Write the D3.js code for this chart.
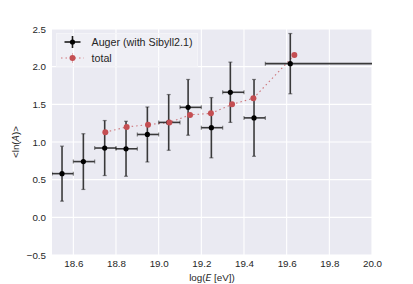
<!DOCTYPE html>
<html><head><meta charset="utf-8">
<script src="https://cdn.jsdelivr.net/npm/d3@7"></script>
<style>body{margin:0;background:#fff}svg{display:block}text{font-family:"Liberation Sans",Arial,sans-serif;fill:#262626}</style>
</head><body><svg id="c" width="413" height="284"></svg>
<script>
// Auger data (with Sibyll2.1)
const augerX    = [18.547, 18.647, 18.747, 18.847, 18.947, 19.047, 19.138, 19.247, 19.336, 19.447, 19.617];
const augerLnA  = [0.58, 0.74, 0.92, 0.91, 1.10, 1.26, 1.46, 1.19, 1.66, 1.32, 2.04];
const augerErr  = [0.365, 0.37, 0.365, 0.365, 0.365, 0.37, 0.37, 0.40, 0.40, 0.51, 0.40];
const binLow    = [18.5, 18.6, 18.7, 18.8, 18.9, 19.0, 19.1, 19.2, 19.3, 19.4, 19.5];
const binHigh   = [18.6, 18.7, 18.8, 18.9, 19.0, 19.1, 19.2, 19.3, 19.4, 19.5, 20.5];
// total model
const totalX    = [18.75, 18.85, 18.95, 19.05, 19.147, 19.245, 19.344, 19.444, 19.636];
const totalLnA  = [1.13, 1.20, 1.23, 1.26, 1.36, 1.38, 1.50, 1.58, 2.155];
const xTicks    = [18.6, 18.8, 19.0, 19.2, 19.4, 19.6, 19.8, 20.0];
const yTicks    = [-0.5, 0.0, 0.5, 1.0, 1.5, 2.0, 2.5];

const svg = d3.select("#c");
const L=52, R=372, T=29, B=255;
const x = d3.scaleLinear().domain([18.5, 20.0]).range([L, R]);
const y = d3.scaleLinear().domain([-0.5, 2.5]).range([B, T]);

svg.append("rect").attr("x",L).attr("y",T).attr("width",R-L).attr("height",B-T).attr("fill","#EAEAF2");
svg.append("defs").append("clipPath").attr("id","clip").append("rect").attr("x",L).attr("y",T).attr("width",R-L).attr("height",B-T);

// grid
const g = svg.append("g");
g.selectAll(".gx").data(xTicks).join("line").attr("x1",d=>x(d)).attr("x2",d=>x(d)).attr("y1",T).attr("y2",B).attr("stroke","#fff").attr("stroke-width",1.1);
g.selectAll(".gy").data(yTicks).join("line").attr("y1",d=>y(d)).attr("y2",d=>y(d)).attr("x1",L).attr("x2",R).attr("stroke","#fff").attr("stroke-width",1.1);

// axes
const xa = svg.append("g").attr("transform",`translate(0,${B})`).call(d3.axisBottom(x).tickValues(xTicks).tickSize(0).tickPadding(5.5).tickFormat(d3.format(".1f")));
const ya = svg.append("g").attr("transform",`translate(${L},0)`).call(d3.axisLeft(y).tickValues(yTicks).tickSize(0).tickPadding(6).tickFormat(d=>d3.format(".1f")(d).replace("-","\u2212")));
[xa,ya].forEach(a=>{a.select(".domain").remove();a.selectAll("text").attr("font-size","9.8px").attr("fill","#262626").style("font-family","'Liberation Sans',Arial,sans-serif");});

// labels
const xl = svg.append("text").attr("x",(L+R)/2).attr("y",280.5).attr("text-anchor","middle").attr("font-size","9.8px");
xl.append("tspan").text("log(");
xl.append("tspan").attr("font-style","italic").attr("font-family","DejaVu Sans").attr("font-size","9.3px").text("E");
xl.append("tspan").text(" [eV])");
const yl = svg.append("text").attr("transform",`translate(19,${(T+B)/2}) rotate(-90)`).attr("text-anchor","middle").attr("font-size","9.8px");
yl.append("tspan").text("<ln(");
yl.append("tspan").attr("font-style","italic").attr("font-family","DejaVu Sans").attr("font-size","9.3px").text("A");
yl.append("tspan").text(")>");

const plot = svg.append("g").attr("clip-path","url(#clip)");
const red = "#C44E52", ebc = "#1a1a1a";

// total line
plot.append("path").datum(totalX.map((d,i)=>[d,totalLnA[i]]))
  .attr("d", d3.line().x(d=>x(d[0])).y(d=>y(d[1])))
  .attr("fill","none").attr("stroke",red).attr("stroke-width",1.1).attr("stroke-opacity",0.75).attr("stroke-dasharray","1.5,3,1.5,3");

// auger error bars
const eb = plot.append("g").attr("stroke",ebc).attr("stroke-opacity",0.85).attr("stroke-width",1.6);
augerX.forEach((d,i)=>{
  const cx=x(d), cy=y(augerLnA[i]), y1=y(augerLnA[i]+augerErr[i]), y2=y(augerLnA[i]-augerErr[i]);
  const x1=x(binLow[i]), x2=x(binHigh[i]);
  eb.append("line").attr("x1",cx).attr("x2",cx).attr("y1",y1).attr("y2",y2);
  eb.append("line").attr("x1",x1).attr("x2",x2).attr("y1",cy).attr("y2",cy);
  [y1,y2].forEach(v=>eb.append("line").attr("x1",cx-2).attr("x2",cx+2).attr("y1",v).attr("y2",v).attr("stroke-width",1.2).attr("stroke-opacity",0.5));
  [x1,x2].forEach(v=>eb.append("line").attr("x1",v).attr("x2",v).attr("y1",cy-2).attr("y2",cy+2).attr("stroke-width",1.2).attr("stroke-opacity",0.5));
});
plot.selectAll(".am").data(augerX).join("circle").attr("cx",d=>x(d)).attr("cy",(d,i)=>y(augerLnA[i])).attr("r",2.6).attr("fill","#000");
plot.selectAll(".tm").data(totalX).join("circle").attr("cx",d=>x(d)).attr("cy",(d,i)=>y(totalLnA[i])).attr("r",3).attr("fill",red);

// legend
const lg = svg.append("g");
lg.append("rect").attr("x",56.5).attr("y",33.5).attr("width",141).attr("height",33).attr("fill","#fff").attr("fill-opacity",0.25).attr("stroke","#f4f4f8").attr("stroke-width",1);
const lx=72.5;
lg.append("line").attr("x1",lx-8).attr("x2",lx+8).attr("y1",42).attr("y2",42).attr("stroke",ebc).attr("stroke-width",1.6);
lg.append("line").attr("x1",lx).attr("x2",lx).attr("y1",36).attr("y2",48).attr("stroke",ebc).attr("stroke-width",1.6);
lg.append("circle").attr("cx",lx).attr("cy",42).attr("r",2.6).attr("fill","#000");
lg.append("line").attr("x1",61).attr("x2",84).attr("y1",58).attr("y2",58).attr("stroke",red).attr("stroke-width",1.1).attr("stroke-opacity",0.75).attr("stroke-dasharray","1.5,3,1.5,3");
lg.append("line").attr("x1",lx).attr("x2",lx).attr("y1",53).attr("y2",63).attr("stroke",red).attr("stroke-width",1).attr("stroke-opacity",0.4);
lg.append("circle").attr("cx",lx).attr("cy",58).attr("r",3).attr("fill",red);
lg.append("text").attr("x",91.5).attr("y",46).attr("font-size","10.7px").text("Auger (with Sibyll2.1)");
lg.append("text").attr("x",91.5).attr("y",62).attr("font-size","10.7px").text("total");
</script></body></html>
